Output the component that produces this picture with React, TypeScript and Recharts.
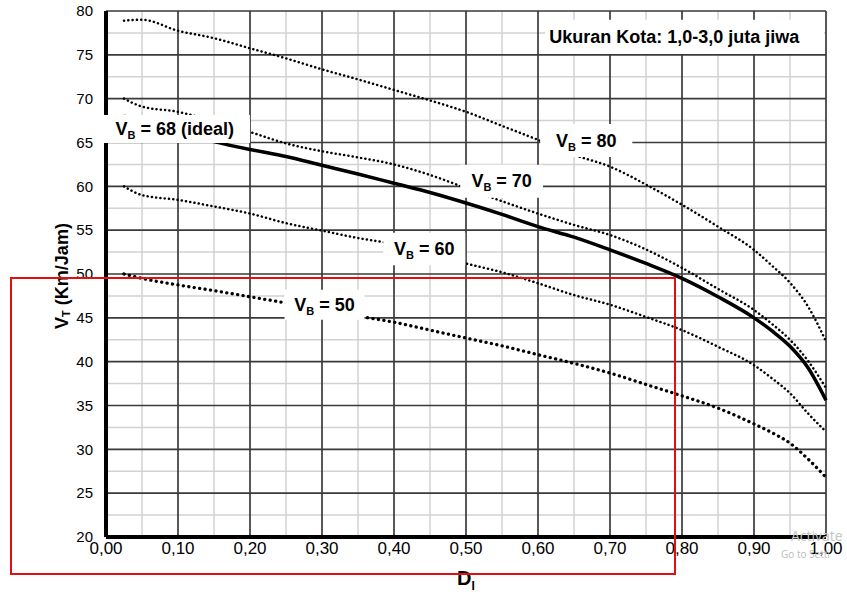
import { LineChart, Line, XAxis, YAxis, CartesianGrid, ReferenceArea } from "recharts"

const FONT = "'Liberation Sans', Arial, sans-serif"

// D_I sample points
const dValues = [0.025, 0.05, 0.1, 0.15, 0.2, 0.25, 0.3, 0.35, 0.4, 0.45, 0.5, 0.55, 0.6, 0.65, 0.7, 0.75, 0.8, 0.85, 0.9, 0.925, 0.95, 0.975, 1.0]

// V_T (km/jam) for each base speed V_B
const vb80 = [78.9, 79.0, 77.75, 76.9, 75.75, 74.6, 73.35, 72.2, 71.0, 69.8, 68.5, 66.9, 65.3, 63.6, 62.25, 60.2, 57.9, 55.4, 52.75, 50.95, 49.0, 46.3, 42.3]
const vb70 = [70.0, 69.1, 68.5, 67.4, 66.2, 64.9, 64.0, 63.3, 62.5, 61.3, 59.8, 58.3, 56.9, 55.6, 54.45, 52.8, 50.7, 48.3, 45.9, 44.3, 42.5, 40.1, 37.0]
const vb68 = [68.0, 67.3, 66.2, 65.1, 64.2, 63.4, 62.4, 61.4, 60.35, 59.3, 58.1, 56.8, 55.4, 54.2, 52.75, 51.2, 49.5, 47.4, 45.0, 43.5, 41.75, 39.3, 35.6]
const vb60 = [60.0, 59.0, 58.45, 57.7, 56.9, 55.8, 54.95, 54.1, 53.4, 52.3, 51.2, 50.2, 48.95, 47.6, 46.5, 45.1, 43.6, 41.7, 39.6, 38.1, 36.4, 34.1, 32.0]
const vb50 = [50.0, 49.5, 48.75, 48.1, 47.4, 46.7, 46.0, 45.2, 44.5, 43.6, 42.7, 41.8, 40.8, 39.8, 38.7, 37.4, 36.1, 34.7, 32.9, 31.9, 30.7, 28.9, 26.8]

const xTicks = [0, 0.1, 0.2, 0.3, 0.4, 0.5, 0.6, 0.7, 0.8, 0.9, 1.0]
const xMinor = [0.05, 0.15, 0.25, 0.35, 0.45, 0.55, 0.65, 0.75, 0.85, 0.95]
const yTicks = [20, 25, 30, 35, 40, 45, 50, 55, 60, 65, 70, 75, 80]
const yMinor = [22.5, 27.5, 32.5, 37.5, 42.5, 47.5, 52.5, 57.5, 62.5, 67.5, 72.5, 77.5]

const cityLabel = "Ukuran Kota: 1,0-3,0 juta jiwa"

const rows = dValues.map((d, i) => ({
  d,
  vb80: vb80[i],
  vb70: vb70[i],
  vb68: vb68[i],
  vb60: vb60[i],
  vb50: vb50[i],
}))

const fmtX = (v: number) => v.toFixed(2).replace(".", ",")

const curveLabel = (rest: string) => (props: any) => {
  const { x, y, width, height } = props.viewBox
  return (
    <text
      x={x + width / 2}
      y={y + height / 2 + 6}
      textAnchor="middle"
      fontFamily={FONT}
      fontWeight="bold"
      fontSize={18}
      fill="#000"
      style={{ whiteSpace: "pre" }}
    >
      V<tspan fontSize={11} dy={4}>B</tspan>
      <tspan dy={-4}>{rest}</tspan>
    </text>
  )
}

const CityLabel = (props: any) => {
  const { x, y } = props.viewBox
  return (
    <text x={x + 4} y={y + 23} fontFamily={FONT} fontWeight="bold" fontSize={18} fill="#000">
      {cityLabel}
    </text>
  )
}

const YTitle = (props: any) => {
  const { x, y, height } = props.viewBox
  const cx = x + 16
  const cy = y + height / 2 + 2
  return (
    <text
      x={cx}
      y={cy}
      transform={`rotate(-90 ${cx} ${cy})`}
      textAnchor="middle"
      dominantBaseline="central"
      fontFamily={FONT}
      fontWeight="bold"
      fontSize={18}
      fill="#000"
      style={{ whiteSpace: "pre" }}
    >
      V<tspan fontSize={11} dy={4}>T</tspan>
      <tspan dy={-4}> (Km/Jam)</tspan>
    </text>
  )
}

const XTitle = (props: any) => {
  const { x, y, width } = props.viewBox
  return (
    <text x={x + width / 2} y={y + 48} textAnchor="middle" fontFamily={FONT} fontWeight="bold" fontSize={20} fill="#000">
      D<tspan fontSize={12} dy={5}>I</tspan>
    </text>
  )
}

export default function App() {
  const dotted = { stroke: "#000", strokeWidth: 2.5, strokeDasharray: "0.1 4.2", strokeLinecap: "round" as const }
  return (
    <div style={{ position: "relative", width: 847, height: 594, overflow: "hidden", background: "#fff" }}>
      <style>{`body{margin:0}`}</style>
      <LineChart width={847} height={594} data={rows} margin={{ top: 11, right: 21, left: 46, bottom: 27 }}>
        <CartesianGrid stroke="#d2d2d2" strokeWidth={1.5} horizontalValues={yMinor} verticalValues={xMinor} />
        <CartesianGrid stroke="#3a3a3a" strokeWidth={1.7} horizontalValues={yTicks} verticalValues={xTicks} />
        <XAxis
          dataKey="d"
          type="number"
          domain={[0, 1]}
          ticks={xTicks}
          tickFormatter={fmtX}
          height={30}
          tickSize={0}
          tickMargin={5}
          tickLine={false}
          axisLine={{ stroke: "#000", strokeWidth: 4 }}
          tick={{ fontSize: 17, fill: "#000", fontFamily: FONT }}
          label={{ content: XTitle }}
        />
        <YAxis
          type="number"
          domain={[20, 80]}
          ticks={yTicks}
          width={60}
          tickSize={0}
          tickMargin={13}
          tickLine={false}
          axisLine={{ stroke: "#000", strokeWidth: 4 }}
          tick={{ fontSize: 15, fill: "#000", fontFamily: FONT }}
          label={{ content: YTitle }}
        />
        <Line type="monotone" dataKey="vb80" {...dotted} dot={false} activeDot={false} isAnimationActive={false} />
        <Line type="monotone" dataKey="vb70" {...dotted} dot={false} activeDot={false} isAnimationActive={false} />
        <Line type="monotone" dataKey="vb60" {...dotted} dot={false} activeDot={false} isAnimationActive={false} />
        <Line
          type="monotone"
          dataKey="vb50"
          stroke="#000"
          strokeWidth={3.3}
          strokeDasharray="0.1 5.4"
          strokeLinecap="round"
          dot={false}
          activeDot={false}
          isAnimationActive={false}
        />
        <Line type="monotone" dataKey="vb68" stroke="#000" strokeWidth={3.5} dot={false} activeDot={false} isAnimationActive={false} />

        <ReferenceArea x1={0.61} x2={0.997} y1={75.1} y2={79.0} fill="#fff" fillOpacity={1} stroke="none" ifOverflow="visible" zIndex={600} label={{ content: CityLabel }} />
        <ReferenceArea x1={-0.009} x2={0.2} y1={64.95} y2={68.14} fill="#fff" fillOpacity={1} stroke="none" ifOverflow="visible" zIndex={600} label={{ content: curveLabel(" = 68 (ideal)") }} />
        <ReferenceArea x1={0.603} x2={0.731} y1={63.35} y2={67.1} fill="#fff" fillOpacity={1} stroke="none" ifOverflow="visible" zIndex={600} label={{ content: curveLabel(" = 80") }} />
        <ReferenceArea x1={0.492} x2={0.607} y1={58.7} y2={62.45} fill="#fff" fillOpacity={1} stroke="none" ifOverflow="visible" zIndex={600} label={{ content: curveLabel(" = 70") }} />
        <ReferenceArea x1={0.385} x2={0.499} y1={51.0} y2={54.7} fill="#fff" fillOpacity={1} stroke="none" ifOverflow="visible" zIndex={600} label={{ content: curveLabel(" = 60") }} />
        <ReferenceArea x1={0.248} x2={0.359} y1={44.77} y2={48.2} fill="#fff" fillOpacity={1} stroke="none" ifOverflow="visible" zIndex={600} label={{ content: curveLabel(" = 50") }} />
      </LineChart>

      {/* red highlight box drawn over the picture */}
      <div style={{ position: "absolute", left: 10, top: 277, width: 662, height: 294, border: "2px solid #e01010" }} />

      {/* OS watermark visible in the screenshot, clipped at the right edge */}
      <div style={{ position: "absolute", left: 791, top: 526, fontFamily: "'Open Sans', sans-serif", fontSize: 14, color: "#c4c4c4", whiteSpace: "nowrap" }}>
        Activate
      </div>
      <div style={{ position: "absolute", left: 781, top: 547, fontFamily: "'Open Sans', sans-serif", fontSize: 10, color: "#bdbdbd", whiteSpace: "nowrap" }}>
        Go to Setti
      </div>
    </div>
  )
}
